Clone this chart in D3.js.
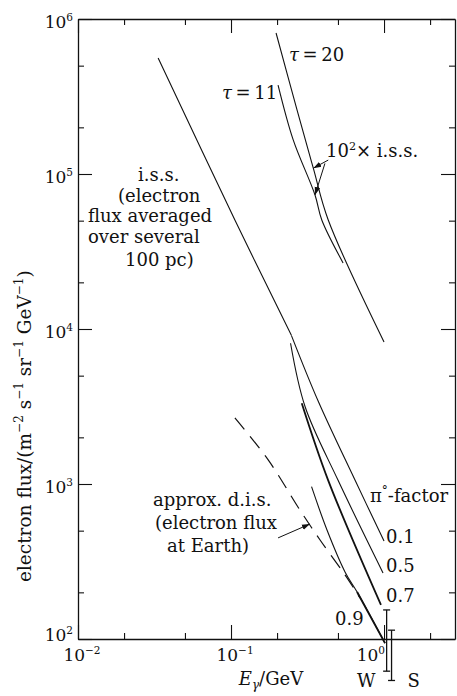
<!DOCTYPE html>
<html>
<head>
<meta charset="utf-8">
<script src="https://cdn.jsdelivr.net/npm/d3@7"></script>
<style>
  body { margin: 0; background: #fff; }
  svg text { font-family: "DejaVu Serif", serif; fill: #111; }
  .tick line, .domain { stroke: #111; }
</style>
</head>
<body>
<div id="chart"></div>
<script>
// energies in GeV, fluxes in m^-2 s^-1 sr^-1 GeV^-1
var issE = [0.0334, 0.106, 0.248];
var issF = [5.6e5, 5.05e4, 9.1e3];

// 10^2 x i.s.s.
var tau20E = [0.197, 0.270, 0.345, 0.432, 1.0];
var tau20F = [8.12e5, 2.59e5, 1.09e5, 5.05e4, 8.25e3];
var tau11E = [0.203, 0.255, 0.354, 0.392, 0.540];
var tau11F = [3.75e5, 1.66e5, 7.32e4, 5.05e4, 2.67e4];

// pi0-factor curves
var pi01E = [0.248, 0.371, 0.646, 1.0];
var pi01F = [9.1e3, 3.43e3, 1.06e3, 429];
var pi05E = [0.245, 0.305, 0.500, 0.985];
var pi05F = [8.09e3, 3.15e3, 1.06e3, 267];
var pi07E = [0.290, 0.431, 0.955];
var pi07F = [3.32e3, 1.06e3, 166];
var pi09E = [0.336, 0.424, 0.556, 0.667, 1.015];
var pi09F = [961, 505, 271, 201, 94];

// approx. d.i.s. (dashed)
var disE = [0.106, 0.175, 0.282, 0.382, 0.556, 0.697];
var disF = [2670, 1430, 680, 435, 259, 184];

// W and S error bars
var errLbl = ["W", "S"];
var errE = [1.04, 1.12];
var errLo = [62, 54];
var errHi = [154, 114];

// annotation arrows (tail -> tip)
var arrTailE = [0.432, 0.411, 0.203];
var arrTailF = [1.23e5, 1.17e5, 449];
var arrTipE = [0.345, 0.354, 0.328];
var arrTipF = [1.09e5, 7.32e4, 552];

var xMajor = [0.01, 0.1, 1];
var xMinor = [0.02, 0.05, 0.2, 0.5, 2];
var yMajor = [1e2, 1e3, 1e4, 1e5, 1e6];
var yMinor = [200, 500, 2e3, 5e3, 2e4, 5e4, 2e5, 5e5];
var xTickExp = ["\u22122", "\u22121", "0"];
var yTickExp = ["2", "3", "4", "5", "6"];

var W = 457, H = 696;
var margin = {top: 19, right: 2, bottom: 57, left: 78};

var svg = d3.select("#chart").append("svg")
    .attr("width", W).attr("height", H);

var x = d3.scaleLog().domain([0.01, 2.91]).range([margin.left, W - margin.right]);
var y = d3.scaleLog().domain([100, 1e6]).range([H - margin.bottom, margin.top]);
var x0 = x.range()[0], x1 = x.range()[1], y0 = y.range()[0], y1 = y.range()[1];

//ticks (all inward) + frame
function drawAxes(xv, yv, len, withDomain){
  var gb = svg.append("g").attr("transform", "translate(0," + y0 + ")")
    .call(d3.axisBottom(x).tickValues(xv).tickSize(-len).tickSizeOuter(0).tickFormat(""));
  var gt = svg.append("g").attr("transform", "translate(0," + y1 + ")")
    .call(d3.axisTop(x).tickValues(xv).tickSize(-len).tickSizeOuter(0).tickFormat(""));
  var gl = svg.append("g").attr("transform", "translate(" + x0 + ",0)")
    .call(d3.axisLeft(y).tickValues(yv).tickSize(-len).tickSizeOuter(0).tickFormat(""));
  var gr = svg.append("g").attr("transform", "translate(" + x1 + ",0)")
    .call(d3.axisRight(y).tickValues(yv).tickSize(-len).tickSizeOuter(0).tickFormat(""));
  [gb, gt, gl, gr].forEach(function(g){
    g.selectAll(".tick line").attr("stroke-width", 1.1);
    if(!withDomain) g.select(".domain").remove();
    else g.select(".domain").attr("stroke-width", 1.3);
  });
}
drawAxes(xMajor, yMajor, 14, true);
drawAxes(xMinor, yMinor, 6, false);

// text with a superscript part
function supText(px, py, base, sup, anchor, size){
  size = size || 17;
  var t = svg.append("text").attr("x", px).attr("y", py)
      .attr("text-anchor", anchor || "start").style("font-size", size + "px");
  t.append("tspan").text(base);
  t.append("tspan").attr("dy", -7).style("font-size", (size * 0.62) + "px").text(sup);
  return t;
}

//tick labels
yMajor.forEach(function(v, i){
  var py = (i === 0) ? y(v) + 2 : y(v) + 9;
  supText(x0 - 5, py, "10", yTickExp[i], "end");
});
xMajor.forEach(function(v, i){
  if(i === 2) supText(x(v) + 1, 661, "10", xTickExp[i], "end");
  else supText(x(v) + 4, 661, "10", xTickExp[i], "middle");
});

// axis titles
var yt = svg.append("text")
    .attr("transform", "translate(31,582) rotate(-90)")
    .attr("text-anchor", "start").style("font-size", "18.5px");
[["electron flux/(m", 0], ["\u22122", 1], [" s", 0], ["\u22121", 1], [" sr", 0], ["\u22121", 1], [" GeV", 0], ["\u22121", 1], [")", 0]]
  .forEach(function(p, i, arr){
    var prevSup = i > 0 && arr[i-1][1];
    var ts = yt.append("tspan").text(p[0]);
    if(p[1]) ts.attr("dy", -8).style("font-size", "12px");
    else if(prevSup) ts.attr("dy", 8);
  });

var xt = svg.append("text").attr("x", 271).attr("y", 685)
    .attr("text-anchor", "middle").style("font-size", "18px");
xt.append("tspan").style("font-style", "italic").text("E");
xt.append("tspan").attr("dy", 4).style("font-size", "12px").style("font-style", "italic").text("\u03b3");
xt.append("tspan").attr("dy", -4).text("/GeV");

// curves
var line = d3.line()
    .x(function(d){ return x(d[0]); })
    .y(function(d){ return y(d[1]); })
    .curve(d3.curveCatmullRom.alpha(0.5));
function zip(a, b){ return a.map(function(v, i){ return [v, b[i]]; }); }

var curves = [
  {e: issE, f: issF, w: 1.1},
  {e: tau20E, f: tau20F, w: 1.1},
  {e: tau11E, f: tau11F, w: 1.1},
  {e: pi01E, f: pi01F, w: 1.1},
  {e: pi05E, f: pi05F, w: 1.1},
  {e: pi07E, f: pi07F, w: 1.8},
  {e: pi09E, f: pi09F, w: 1.1},
  {e: pi09E.slice(3), f: pi09F.slice(3), w: 1.9}
];
curves.forEach(function(c){
  svg.append("path").attr("d", line(zip(c.e, c.f)))
    .attr("fill", "none").attr("stroke", "#111").attr("stroke-width", c.w);
});
svg.append("path").attr("d", line(zip(disE, disF)))
  .attr("fill", "none").attr("stroke", "#111").attr("stroke-width", 1.2)
  .attr("stroke-dasharray", "15,9");

// error bars
errE.forEach(function(e, i){
  var g = svg.append("g").attr("stroke", "#111").attr("stroke-width", 1.3);
  var px = x(e);
  g.append("line").attr("x1", px).attr("x2", px).attr("y1", y(errLo[i])).attr("y2", y(errHi[i]));
  g.append("line").attr("x1", px - 3.5).attr("x2", px + 3.5).attr("y1", y(errLo[i])).attr("y2", y(errLo[i]));
  g.append("line").attr("x1", px - 3.5).attr("x2", px + 3.5).attr("y1", y(errHi[i])).attr("y2", y(errHi[i]));
  svg.append("text").attr("x", i === 0 ? px - 11 : px + 16).attr("y", 687)
    .attr("text-anchor", i === 0 ? "end" : "start").style("font-size", "18px").text(errLbl[i]);
});

// arrows
svg.append("defs").append("marker").attr("id", "arr")
  .attr("viewBox", "0 0 10 10").attr("refX", 10).attr("refY", 5)
  .attr("markerWidth", 8).attr("markerHeight", 8)
  .attr("markerUnits", "userSpaceOnUse").attr("orient", "auto")
  .append("path").attr("d", "M0,1.5L10,5L0,8.5Z").attr("fill", "#111");
arrTailE.forEach(function(e, i){
  svg.append("line")
    .attr("x1", x(e)).attr("y1", y(arrTailF[i]))
    .attr("x2", x(arrTipE[i])).attr("y2", y(arrTipF[i]))
    .attr("stroke", "#111").attr("stroke-width", 1)
    .attr("marker-end", "url(#arr)");
});

// annotation text
function txt(px, py, s, size){
  return svg.append("text").attr("x", px).attr("y", py).style("font-size", (size || 18) + "px").text(s);
}
var t20 = svg.append("text").attr("x", 289).attr("y", 61).style("font-size", "18px");
t20.append("tspan").style("font-style", "italic").text("\u03c4");
t20.append("tspan").text("\u2009=\u200920");
var t11 = svg.append("text").attr("x", 222).attr("y", 99).style("font-size", "18px");
t11.append("tspan").style("font-style", "italic").text("\u03c4");
t11.append("tspan").text("\u2009=\u200911");

var t100 = supText(326, 157, "10", "2", "start", 18);
t100.append("tspan").attr("dy", 7).text("\u00d7 i.s.s.");

txt(138, 181, "i.s.s.");
txt(118, 202, "(electron");
txt(88, 222, "flux averaged");
txt(88, 243, "over several");
txt(125, 266, "100 pc)");

txt(153, 506, "approx. d.i.s.");
txt(155, 529, "(electron flux");
txt(167, 552, "at Earth)");

var tp = svg.append("text").attr("x", 370).attr("y", 502).style("font-size", "18px");
tp.append("tspan").text("\u03c0");
tp.append("tspan").attr("dy", -7).style("font-size", "12px").text("\u00b0");
tp.append("tspan").attr("dy", 7).text("-factor");

txt(386, 543, "0.1");
txt(386, 572, "0.5");
txt(386, 602, "0.7");
txt(335, 625, "0.9");
</script>
</body>
</html>
